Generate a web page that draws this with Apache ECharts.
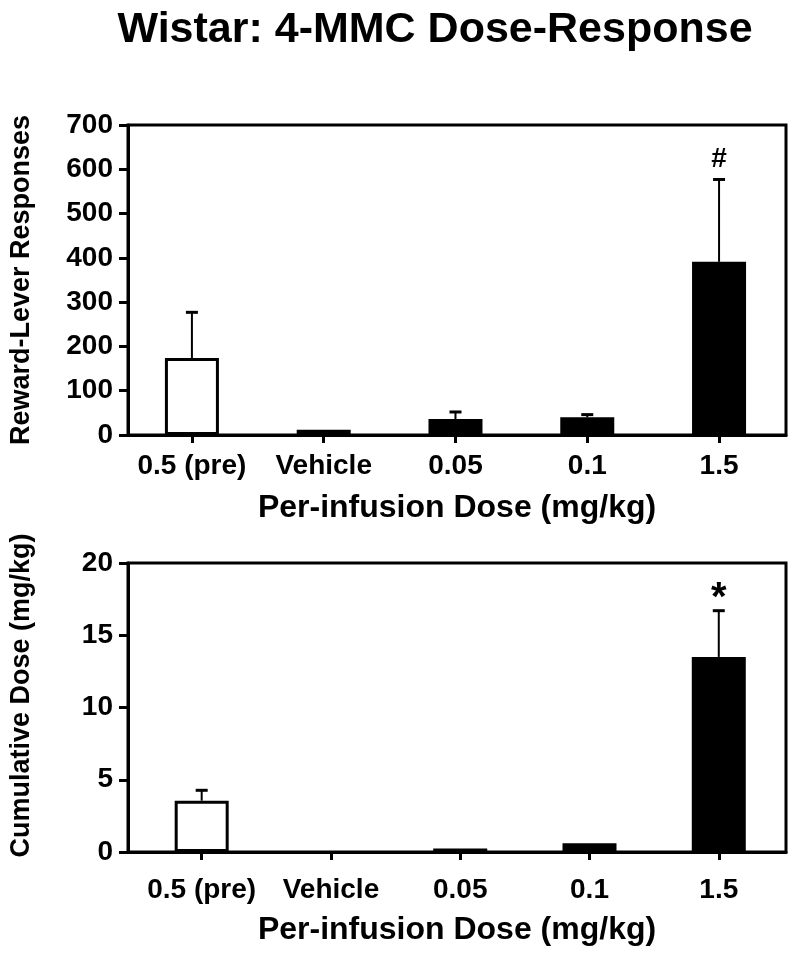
<!DOCTYPE html>
<html>
<head>
<meta charset="utf-8">
<script src="https://cdn.jsdelivr.net/npm/echarts@6/dist/echarts.min.js"></script>
<style>
  html, body { margin: 0; padding: 0; background: #fff; }
  #chart { width: 800px; height: 954px; }
</style>
</head>
<body>
<div id="chart"></div>
<script>
// ---- data ----
const categories = ['0.5 (pre)', 'Vehicle', '0.05', '0.1', '1.5'];
const responsesMean = [174, 12, 36, 40, 391];
const responsesErrTop = [277, null, 52, 46, 577];
const responsesMarks = ['', '', '', '', '#'];
const cumDoseMean = [3.55, 0, 0.25, 0.6, 13.5];
const cumDoseErrTop = [4.27, null, null, null, 16.7];
const cumDoseMarks = ['', '', '', '', '*'];
const responsesTicks = [0, 100, 200, 300, 400, 500, 600, 700];
const cumDoseTicks = [0, 5, 10, 15, 20];
const barColors = ['#ffffff', '#000000', '#000000', '#000000', '#000000'];

const FONT = "'Liberation Sans', Arial, sans-serif";
const chart = echarts.init(document.getElementById('chart'), null, { renderer: 'canvas' });

function barData(means) {
  return means.map((v, i) => ({ value: [i, v], itemStyle: { color: barColors[i], borderWidth: v === 0 ? 0 : 3 } }));
}
function errData(means, tops) {
  return means.map((v, i) => [i, v, tops[i] == null ? NaN : tops[i]]);
}
function errRender(marks, markSize, markDy) {
  return function (params, api) {
    const i = api.value(0);
    const m = api.value(1);
    const t = api.value(2);
    const children = [];
    const mark = marks[params.dataIndex];
    if (!isNaN(t)) {
      const p0 = api.coord([i, m]);
      const p1 = api.coord([i, t]);
      children.push({ type: 'line', shape: { x1: p0[0], y1: p0[1], x2: p1[0], y2: p1[1] }, style: { stroke: '#000', lineWidth: 2 } });
      children.push({ type: 'line', shape: { x1: p1[0] - 6, y1: p1[1], x2: p1[0] + 6, y2: p1[1] }, style: { stroke: '#000', lineWidth: 3 } });
      if (mark) {
        children.push({ type: 'text', style: { text: mark, x: p1[0], y: p1[1] + markDy, align: 'center', verticalAlign: 'bottom', font: 'bold ' + markSize + 'px ' + FONT, fill: '#000' } });
      }
    }
    return { type: 'group', children: children };
  };
}

function xAxisCfg(gridIndex, min, max, labelMargin, nameGap) {
  return {
    type: 'value', gridIndex: gridIndex, min: min, max: max,
    splitLine: { show: false },
    axisLine: { show: true, onZero: false, lineStyle: { color: '#000', width: 3 } },
    axisTick: { show: true, customValues: [0, 1, 2, 3, 4], length: 8, lineStyle: { color: '#000', width: 3 } },
    axisLabel: { show: true, customValues: [0, 1, 2, 3, 4], formatter: v => categories[Math.round(v)], margin: labelMargin,
      fontFamily: FONT, fontWeight: 'bold', fontSize: 28, color: '#000' },
    name: 'Per-infusion Dose (mg/kg)', nameLocation: 'middle', nameGap: nameGap,
    nameTextStyle: { fontFamily: FONT, fontWeight: 'bold', fontSize: 32, color: '#000' }
  };
}
function yAxisCfg(gridIndex, max, interval, name, namePad) {
  return {
    type: 'value', gridIndex: gridIndex, min: 0, max: max, interval: interval,
    splitLine: { show: false },
    axisLine: { show: true, onZero: false, lineStyle: { color: '#000', width: 3 } },
    axisTick: { show: true, length: 9, lineStyle: { color: '#000', width: 3 } },
    axisLabel: { margin: 15, fontFamily: FONT, fontWeight: 'bold', fontSize: 28, color: '#000' },
    name: name, nameLocation: 'middle', nameRotate: 90, nameGap: 93,
    nameTextStyle: { fontFamily: FONT, fontWeight: 'bold', fontSize: 27, color: '#000', padding: namePad }
  };
}

const option = {
  backgroundColor: '#fff',
  animation: false,
  title: {
    text: 'Wistar: 4-MMC Dose-Response',
    left: 430, top: 4, textAlign: 'center',
    textStyle: { fontFamily: FONT, fontWeight: 'bold', fontSize: 43, color: '#000' }
  },
  grid: [
    { left: 127, width: 659, top: 125, height: 310, show: true, borderColor: '#000', borderWidth: 3, backgroundColor: 'transparent' },
    { left: 125, width: 661, top: 563, height: 289, show: true, borderColor: '#000', borderWidth: 3, backgroundColor: 'transparent' }
  ],
  xAxis: [
    xAxisCfg(0, -0.485, 4.508, 17, 57),
    xAxisCfg(1, -0.57, 4.52, 24, 62)
  ],
  yAxis: [
    yAxisCfg(0, 700, 100, 'Reward-Lever Responses', [0, 0, 0, 0]),
    yAxisCfg(1, 20, 5, 'Cumulative Dose (mg/kg)', [0, 0, 0, 24])
  ],
  series: [
    { type: 'bar', xAxisIndex: 0, yAxisIndex: 0, barWidth: 54, data: barData(responsesMean),
      itemStyle: { borderColor: '#000', borderWidth: 3 }, z: 2 },
    { type: 'custom', xAxisIndex: 0, yAxisIndex: 0, renderItem: errRender(responsesMarks, 28, -6), data: errData(responsesMean, responsesErrTop), z: 3 },
    { type: 'bar', xAxisIndex: 1, yAxisIndex: 1, barWidth: 54, data: barData(cumDoseMean),
      itemStyle: { borderColor: '#000', borderWidth: 3 }, z: 2 },
    { type: 'custom', xAxisIndex: 1, yAxisIndex: 1, renderItem: errRender(cumDoseMarks, 40, 8), data: errData(cumDoseMean, cumDoseErrTop), z: 3 }
  ]
};
chart.setOption(option);
</script>
</body>
</html>
